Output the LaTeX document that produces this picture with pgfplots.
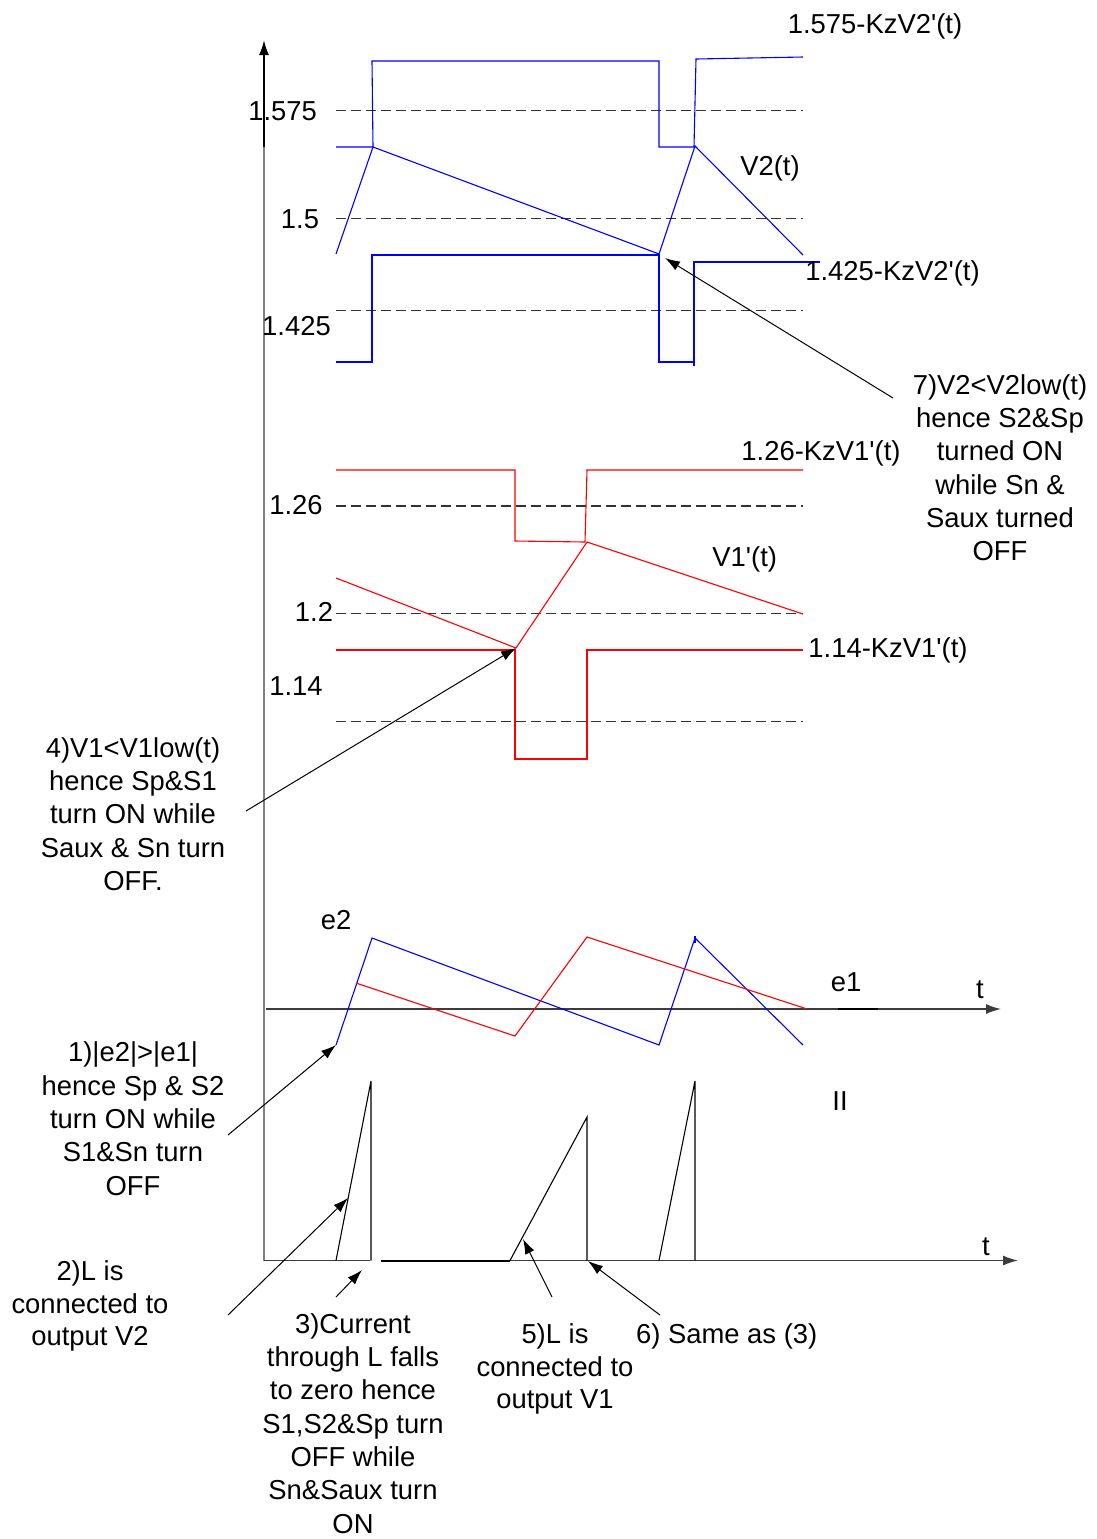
\documentclass[border=0pt]{standalone}
\usepackage{fontspec}
\setmainfont{Liberation Sans}[Ligatures=TeXOff]
\usepackage{pgfplots}
\pgfplotsset{compat=1.18}
\usetikzlibrary{arrows.meta}

\definecolor{axgray}{RGB}{128,128,128}
\definecolor{axdark}{RGB}{60,60,60}
\definecolor{dashgray}{RGB}{50,50,50}
\definecolor{sigblue}{RGB}{0,0,255}
\definecolor{sigred}{RGB}{255,0,0}

% one text line, centred horizontally on x, baseline at y
\newcommand{\tl}[3]{\node[anchor=base] at (axis cs:#1,#2) {#3};}

\begin{document}
\begin{tikzpicture}[every node/.style={font=\fontsize{13.7}{16}\selectfont, inner sep=0pt}]
\begin{axis}[
  scale only axis, width=548.5pt, height=769.5pt,
  xmin=0, xmax=1097, ymin=0, ymax=1539, y dir=reverse,
  hide axis, clip=false, no marks,
  every axis plot/.append style={line width=0.55pt},
  arr/.style={black, line width=0.5pt, -{Latex[length=7.5pt,width=5pt]}},
]
% ---------------- axes ----------------
\addplot[axgray, line width=0.9pt] coordinates {(264,1261) (264,147)};
\addplot[black, line width=0.9pt, -{Latex[length=7.5pt,width=5pt]}] coordinates {(264,147) (264,40)};
\addplot[axdark, line width=0.7pt, -{Latex[length=7.5pt,width=5pt]}] coordinates {(266,1009) (1001,1009)};
\addplot[black, line width=1.4pt] coordinates {(838,1009) (878,1009)};
\addplot[axdark, line width=0.7pt] coordinates {(264,1260.5) (370,1260.5)};
\addplot[axdark, line width=0.7pt, -{Latex[length=7.5pt,width=5pt]}] coordinates {(381,1260.5) (1018,1260.5)};
\addplot[black, line width=1pt] coordinates {(381,1260.5) (510,1260.5)};

% ---------------- reference levels ----------------
\pgfplotsinvokeforeach{110.7,218.7,310.7,506,613.7,721.7}{
  \addplot[dashgray, line width=0.75pt, dash pattern=on 5pt off 2.5pt] coordinates {(335.5,#1) (803,#1)};
}

% ---------------- V2 window and V2(t) ----------------
\addplot[sigblue] coordinates {(336,147) (373,147) (372,61) (659,61) (659,147) (694,147) (696,59) (803,57)};
\addplot[sigblue] coordinates {(336,362) (372,362) (372,255) (659,255) (659,362) (694,362) (694,262) (820,262)};
\addplot[sigblue] coordinates {(694,362) (694,366)};
\addplot[sigblue] coordinates {(336,254) (373,147) (659,254) (695,146) (803,255)};

% ---------------- V1 window and V1'(t) ----------------
\addplot[sigred] coordinates {(336,470) (515,470) (515,541) (585,542) (587,470) (803,470)};
\addplot[sigred] coordinates {(336,650) (515,650) (515,759) (587,759) (587,650) (803,650)};
\addplot[sigred] coordinates {(336,578) (516,648) (587,542) (803,614)};

% ---------------- errors e1, e2 ----------------
\addplot[sigblue] coordinates {(336,1045) (372,938) (659,1045) (695,938) (803,1045)};
\addplot[sigblue] coordinates {(695,936) (695,943)};
\addplot[sigred] coordinates {(356,983) (515,1036) (587,937) (807,1009)};

% ---------------- inductor current ----------------
\addplot[black] coordinates {(336,1260.5) (371,1081) (371,1260.5)};
\addplot[black] coordinates {(510,1260.5) (587,1117) (587,1260.5)};
\addplot[black] coordinates {(659,1260.5) (695,1081) (695,1260.5)};

% ---------------- annotation arrows ----------------
\addplot[arr] coordinates {(893,398) (665,258)};
\addplot[arr] coordinates {(246,811) (516,648)};
\addplot[arr] coordinates {(228,1135) (336,1045)};
\addplot[arr] coordinates {(228,1315) (348,1198)};
\addplot[arr] coordinates {(336,1297) (362,1270)};
\addplot[arr] coordinates {(552,1297) (523,1239)};
\addplot[arr] coordinates {(660,1315) (588,1261)};

% ---------------- labels ----------------
\tl{875}{33}{1.575-KzV2'(t)}
\tl{770}{175}{V2(t)}
\tl{892.5}{280}{1.425-KzV2'(t)}
\tl{282.6}{120.7}{1.575}
\tl{300}{228.7}{1.5}
\tl{296.5}{335}{1.425}

\tl{821}{460}{1.26-KzV1'(t)}
\tl{744.7}{566.7}{V1'(t)}
\tl{888}{657}{1.14-KzV1'(t)}
\tl{296}{514}{1.26}
\tl{314}{621.7}{1.2}
\tl{296}{695}{1.14}

\tl{1000}{394}{7)V2<V2low(t)}
\tl{1000}{427.3}{hence S2\&Sp}
\tl{1000}{460.6}{turned ON}
\tl{1000}{494}{while Sn \&}
\tl{1000}{527.3}{Saux turned}
\tl{1000}{560.6}{OFF}

\tl{133}{757}{4)V1<V1low(t)}
\tl{133}{790.3}{hence Sp\&S1}
\tl{133}{823.6}{turn ON while}
\tl{133}{857}{Saux \& Sn turn}
\tl{133}{890.3}{OFF.}

\tl{336}{929}{e2}
\tl{846}{991.7}{e1}
\tl{980}{998}{t}
\tl{986}{1255}{t}
\tl{840}{1110}{II}

\tl{133}{1061.7}{1)|e2|>|e1|}
\tl{133}{1095}{hence Sp \& S2}
\tl{133}{1128.3}{turn ON while}
\tl{133}{1161.6}{S1\&Sn turn}
\tl{133}{1195}{OFF}

\tl{90}{1280}{2)L is}
\tl{90}{1313}{connected to}
\tl{90}{1345}{output V2}

\tl{353}{1333}{3)Current}
\tl{353}{1366.3}{through L falls}
\tl{353}{1399.6}{to zero hence}
\tl{353}{1433}{S1,S2\&Sp turn}
\tl{353}{1466.3}{OFF while}
\tl{353}{1499.6}{Sn\&Saux turn}
\tl{353}{1533}{ON}

\tl{555}{1343}{5)L is}
\tl{555}{1376.7}{connected to}
\tl{555}{1408}{output V1}
\tl{726.7}{1343}{6) Same as (3)}
\end{axis}
\pgfresetboundingbox
\path[use as bounding box] (0,0) rectangle (548.5pt,769.5pt);
\end{tikzpicture}
\end{document}
